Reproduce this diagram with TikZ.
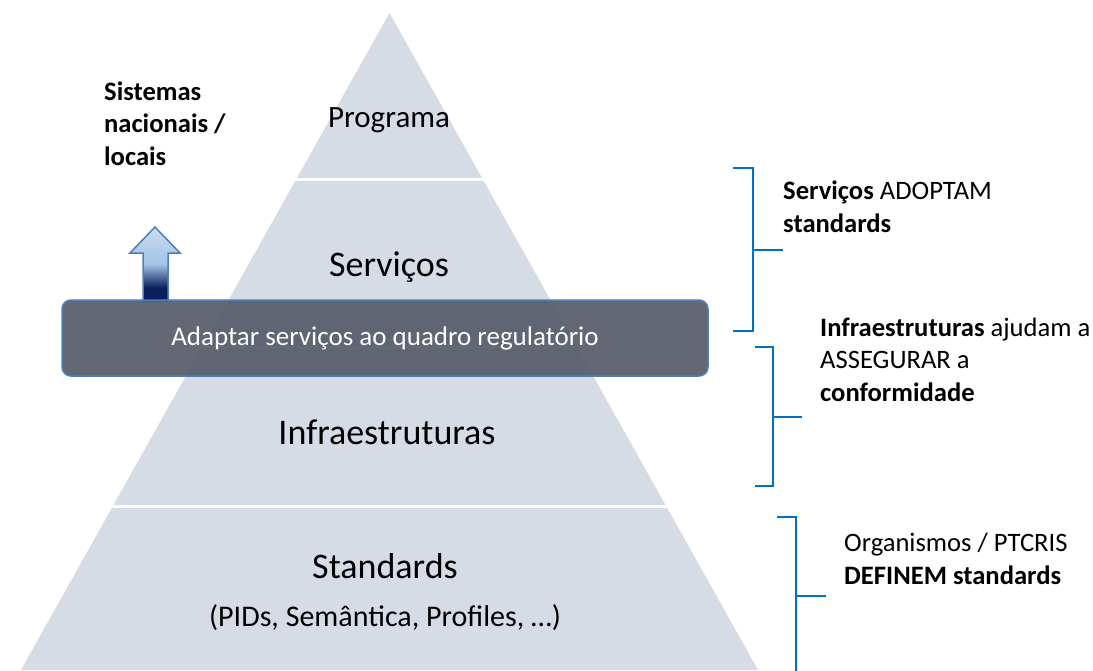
\documentclass[tikz,border=0pt]{standalone}
\usepackage{fontspec}
\setmainfont{Carlito}
\definecolor{pyrfill}{HTML}{D6DCE5}
\definecolor{boxfill}{HTML}{585D6B}
\definecolor{boxline}{HTML}{4F7FB8}
\definecolor{brackblue}{HTML}{0070C0}
\definecolor{arrowlight}{HTML}{C9DCF1}
\definecolor{arrowmid}{HTML}{A3C3E6}
\definecolor{arrownavy}{HTML}{0B1F5E}
\pgfdeclareverticalshading{upshade}{100bp}{color(0bp)=(arrownavy); color(25bp)=(arrownavy); color(34bp)=(arrownavy); color(50bp)=(arrowmid); color(75bp)=(arrowlight); color(100bp)=(arrowlight)}

\begin{document}
\begin{tikzpicture}[x=1pt, y=-1pt,
  layer/.style={fill=pyrfill},
  tierlabel/.style={anchor=base, inner sep=0pt, text=black},
  sidenote/.style={anchor=base west, align=left, inner sep=0pt, font=\fontsize{26.6}{32.5}\selectfont},
  regbox/.style={draw=boxline, line width=1.5pt, fill=boxfill, fill opacity=0.93, text opacity=1, rounded corners=9pt, minimum width=646pt, minimum height=76pt, text=white, font=\fontsize{27}{30}\selectfont},
  bracket/.style={draw=brackblue, line width=2.8pt},
  ]
  \useasboundingbox (0,0) rectangle (1093,670);

  % pyramid tiers
  \foreach \ya/\yb in {13/178, 181/346, 349/505, 508/670}
    \fill[layer] ({389.5-0.561*(\ya-13)},\ya) -- ({389.5+0.561*(\ya-13)},\ya)
      -- ({389.5+0.561*(\yb-13)},\yb) -- ({389.5-0.561*(\yb-13)},\yb) -- cycle;

  \node[tierlabel, font=\fontsize{31}{36}\selectfont] (programa) at (389,127) {Programa};
  \node[tierlabel, font=\fontsize{36}{42}\selectfont] (servicos) at (389,276) {Serviços};
  \node[tierlabel, font=\fontsize{36}{42}\selectfont] (infra) at (387,444) {Infraestruturas};
  \node[tierlabel, font=\fontsize{36}{42}\selectfont] (standards) at (385,578) {Standards};
  \node[tierlabel, font=\fontsize{30}{36}\selectfont] (pids) at (385,626) {(PIDs, Semântica, Profiles, …)};

  % arrow up to national systems
  \shade[shading=upshade, draw=boxline, line width=1.5pt]
    (155,227) -- (180,253) -- (168,253) -- (168,301) -- (143,301) -- (143,253) -- (130,253) -- cycle;

  \node[regbox] (regbox) at (385,338) {Adaptar serviços ao quadro regulatório};

  \node[sidenote] (sistemas) at (104,165) {\textbf{Sistemas}\\\textbf{nacionais /}\\\textbf{locais}};

  % brackets on the right
  \draw[bracket] (733,168) -- (753,168) -- (753,331) -- (733,331);
  \draw[bracket] (753,250) -- (783,250);
  \draw[bracket] (755,347) -- (773,347) -- (773,486) -- (755,486);
  \draw[bracket] (773,417) -- (802,417);
  \draw[bracket] (777,517) -- (796,517) -- (796,672);
  \draw[bracket] (796,596) -- (826,596);

  \node[sidenote] (adoptam) at (783,232) {\textbf{Serviços} ADOPTAM\\\textbf{standards}};
  \node[sidenote] (assegurar) at (820,401) {\textbf{Infraestruturas} ajudam a\\ASSEGURAR a\\\textbf{conformidade}};
  \node[sidenote] (definem) at (844,584) {Organismos / PTCRIS\\\textbf{DEFINEM standards}};
\end{tikzpicture}
\end{document}
